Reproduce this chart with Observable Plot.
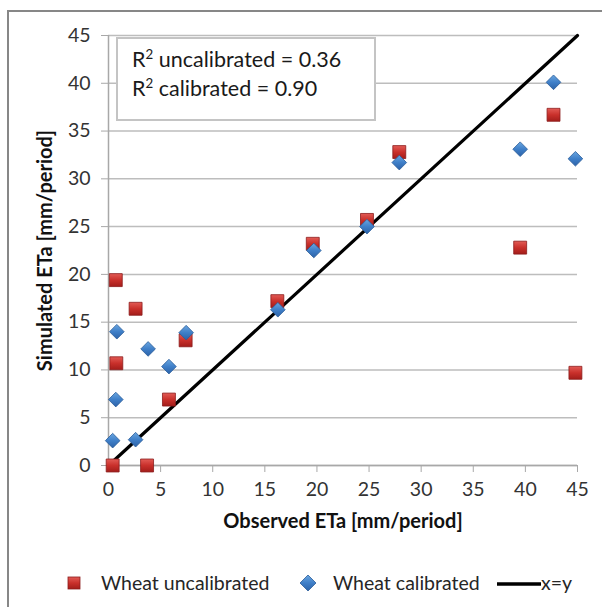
<!DOCTYPE html>
<html><head><meta charset="utf-8">
<script src="https://cdn.jsdelivr.net/npm/d3@7"></script>
<script src="https://cdn.jsdelivr.net/npm/@observablehq/plot@0.6"></script>
<style>
body{margin:0;background:#fff;font-family:Lato, "Open Sans", sans-serif;}
#wrap{position:relative;width:602px;height:607px;overflow:hidden;background:#fff;}
#frame{position:absolute;left:7px;top:10px;width:700px;height:700px;border:2px solid #878787;box-sizing:border-box;pointer-events:none;}
#chart{position:absolute;left:0;top:0;}
#r2box{position:absolute;left:116px;top:37px;width:260px;height:84px;border:2px solid #c4c4c4;box-sizing:border-box;background:#fff;color:#1a1a1a;font-size:21.5px;}
#r2box .ln{position:absolute;left:14px;line-height:21.5px;white-space:nowrap;}
#r2box sup{font-size:0.62em;vertical-align:0.6em;line-height:0;}
#legend{position:absolute;left:0;top:570px;width:602px;height:26px;font-size:19.5px;color:#262626;}
#legend .it{position:absolute;top:0;height:26px;line-height:26px;white-space:nowrap;}
#legend svg{position:absolute;}
</style></head>
<body>
<div id="wrap">
  <div id="chart"></div>
  <div id="r2box"></div>
  <div id="legend"></div>
  <div id="frame"></div>
</div>
<script>
// ---- data ----
const xTicks = [0, 5, 10, 15, 20, 25, 30, 35, 40, 45];
const yTicks = [0, 5, 10, 15, 20, 25, 30, 35, 40, 45];

const uncalObserved  = [0.4, 0.7, 0.75, 2.6, 3.7, 5.8, 7.4, 16.2, 19.6, 24.8, 27.9, 39.5, 42.7, 44.8];
const uncalSimulated = [0, 19.4, 10.7, 16.4, 0, 6.9, 13.1, 17.2, 23.2, 25.7, 32.8, 22.8, 36.7, 9.7];

const calObserved  = [0.4, 0.8, 0.7, 2.6, 3.8, 5.8, 7.45, 16.25, 19.7, 24.8, 27.9, 39.5, 42.7, 44.8];
const calSimulated = [2.6, 14.0, 6.9, 2.7, 12.2, 10.35, 13.9, 16.3, 22.5, 25.0, 31.7, 33.1, 40.1, 32.1];

const lineX = [0, 45];
const lineY = [0, 45];

const r2Labels = ["uncalibrated", "calibrated"];
const r2Values = ["0.36", "0.90"];
const seriesNames = ["Wheat uncalibrated", "Wheat calibrated", "x=y"];
const xTitle = "Observed ETa [mm/period]";
const yTitle = "Simulated ETa [mm/period]";

// ---- build tables ----
const uncal = uncalObserved.map((x, i) => ({x, y: uncalSimulated[i]}));
const cal = calObserved.map((x, i) => ({x, y: calSimulated[i]}));
const line = lineX.map((x, i) => ({x, y: lineY[i]}));

const chart = Plot.plot({
  width: 602,
  height: 545,
  marginLeft: 108,
  marginRight: 25,
  marginTop: 35,
  marginBottom: 80,
  style: {fontFamily: "Lato, 'Open Sans', sans-serif", fontSize: "19.5px", color: "#333", background: "transparent", overflow: "visible"},
  x: {domain: [0, 45], ticks: xTicks},
  y: {domain: [0, 45], ticks: yTicks},
  marks: [
    Plot.gridY(yTicks, {stroke: "#bdbdbd", strokeOpacity: 1, strokeWidth: 1.5}),
    Plot.ruleX([0], {stroke: "#a8a8a8", strokeWidth: 1.5}),
    Plot.ruleY([0], {stroke: "#a8a8a8", strokeWidth: 1.5}),
    Plot.axisY(yTicks, {tickSize: 7, tickPadding: 11, stroke: "#a8a8a8", label: null, fontSize: 19.5}),
    Plot.axisX(xTicks, {tickSize: 7, tickPadding: 10, stroke: "#a8a8a8", label: null, fontSize: 19.5}),
    Plot.line(line, {x: "x", y: "y", stroke: "#000", strokeWidth: 3.2}),
    Plot.dot(uncal, {x: "x", y: "y", symbol: "square", r: 7.3, fill: "url(#gRed)", stroke: "#8c1c1c", strokeWidth: 0.8}),
    Plot.dot(cal, {x: "x", y: "y", symbol: "diamond2", r: 6.6, fill: "url(#gBlue)", stroke: "#2b5d99", strokeWidth: 0.8}),
    Plot.text([xTitle], {frameAnchor: "bottom", dy: 62, textAnchor: "middle", fontWeight: "bold", fontSize: 20, fill: "#111"}),
    Plot.text([yTitle], {frameAnchor: "left", dx: -63, textAnchor: "middle", lineAnchor: "middle", rotate: -90, fontWeight: "bold", fontSize: 20, fill: "#111"})
  ]
});

// gradients for Excel-like markers
const ns = "http://www.w3.org/2000/svg";
const defs = document.createElementNS(ns, "defs");
defs.innerHTML = `
  <linearGradient id="gRed" x1="0" y1="0" x2="0" y2="1">
    <stop offset="0" stop-color="#e25b55"/><stop offset="0.5" stop-color="#c9302b"/><stop offset="1" stop-color="#a31d1a"/>
  </linearGradient>
  <linearGradient id="gBlue" x1="0" y1="0" x2="0" y2="1">
    <stop offset="0" stop-color="#6aa6e0"/><stop offset="0.5" stop-color="#3f7fc8"/><stop offset="1" stop-color="#2c62a8"/>
  </linearGradient>`;
chart.insertBefore(defs, chart.firstChild);
document.getElementById("chart").appendChild(chart);

// R² box
const box = document.getElementById("r2box");
r2Labels.forEach((t, i) => {
  const d = document.createElement("div");
  d.className = "ln";
  d.style.top = (10 + i * 29) + "px";
  d.innerHTML = `R<sup>2</sup> ${t} = ${r2Values[i]}`;
  box.appendChild(d);
});

// legend
const leg = document.getElementById("legend");
function item(left, html) {
  const d = document.createElement("div");
  d.className = "it";
  d.style.left = left + "px";
  d.innerHTML = html;
  leg.appendChild(d);
  return d;
}
item(66, `<svg width="16" height="16" style="left:0;top:5px"><defs><linearGradient id="lgR" x1="0" y1="0" x2="0" y2="1"><stop offset="0" stop-color="#e25b55"/><stop offset="0.5" stop-color="#c9302b"/><stop offset="1" stop-color="#a31d1a"/></linearGradient></defs><rect x="2" y="2" width="12" height="12" fill="url(#lgR)" stroke="#8c1c1c" stroke-width="0.8"/></svg>`);
item(101, seriesNames[0]);
item(299, `<svg width="18" height="18" style="left:0;top:4px"><defs><linearGradient id="lgB" x1="0" y1="0" x2="0" y2="1"><stop offset="0" stop-color="#6aa6e0"/><stop offset="0.5" stop-color="#3f7fc8"/><stop offset="1" stop-color="#2c62a8"/></linearGradient></defs><path d="M9 1 L17 9 L9 17 L1 9 Z" fill="url(#lgB)" stroke="#2b5d99" stroke-width="0.8"/></svg>`);
item(333, seriesNames[1]);
item(497, `<svg width="44" height="10" style="left:0;top:9px"><line x1="0" y1="5" x2="44" y2="5" stroke="#000" stroke-width="3.5"/></svg>`);
item(541, seriesNames[2]);
</script>
</body></html>
